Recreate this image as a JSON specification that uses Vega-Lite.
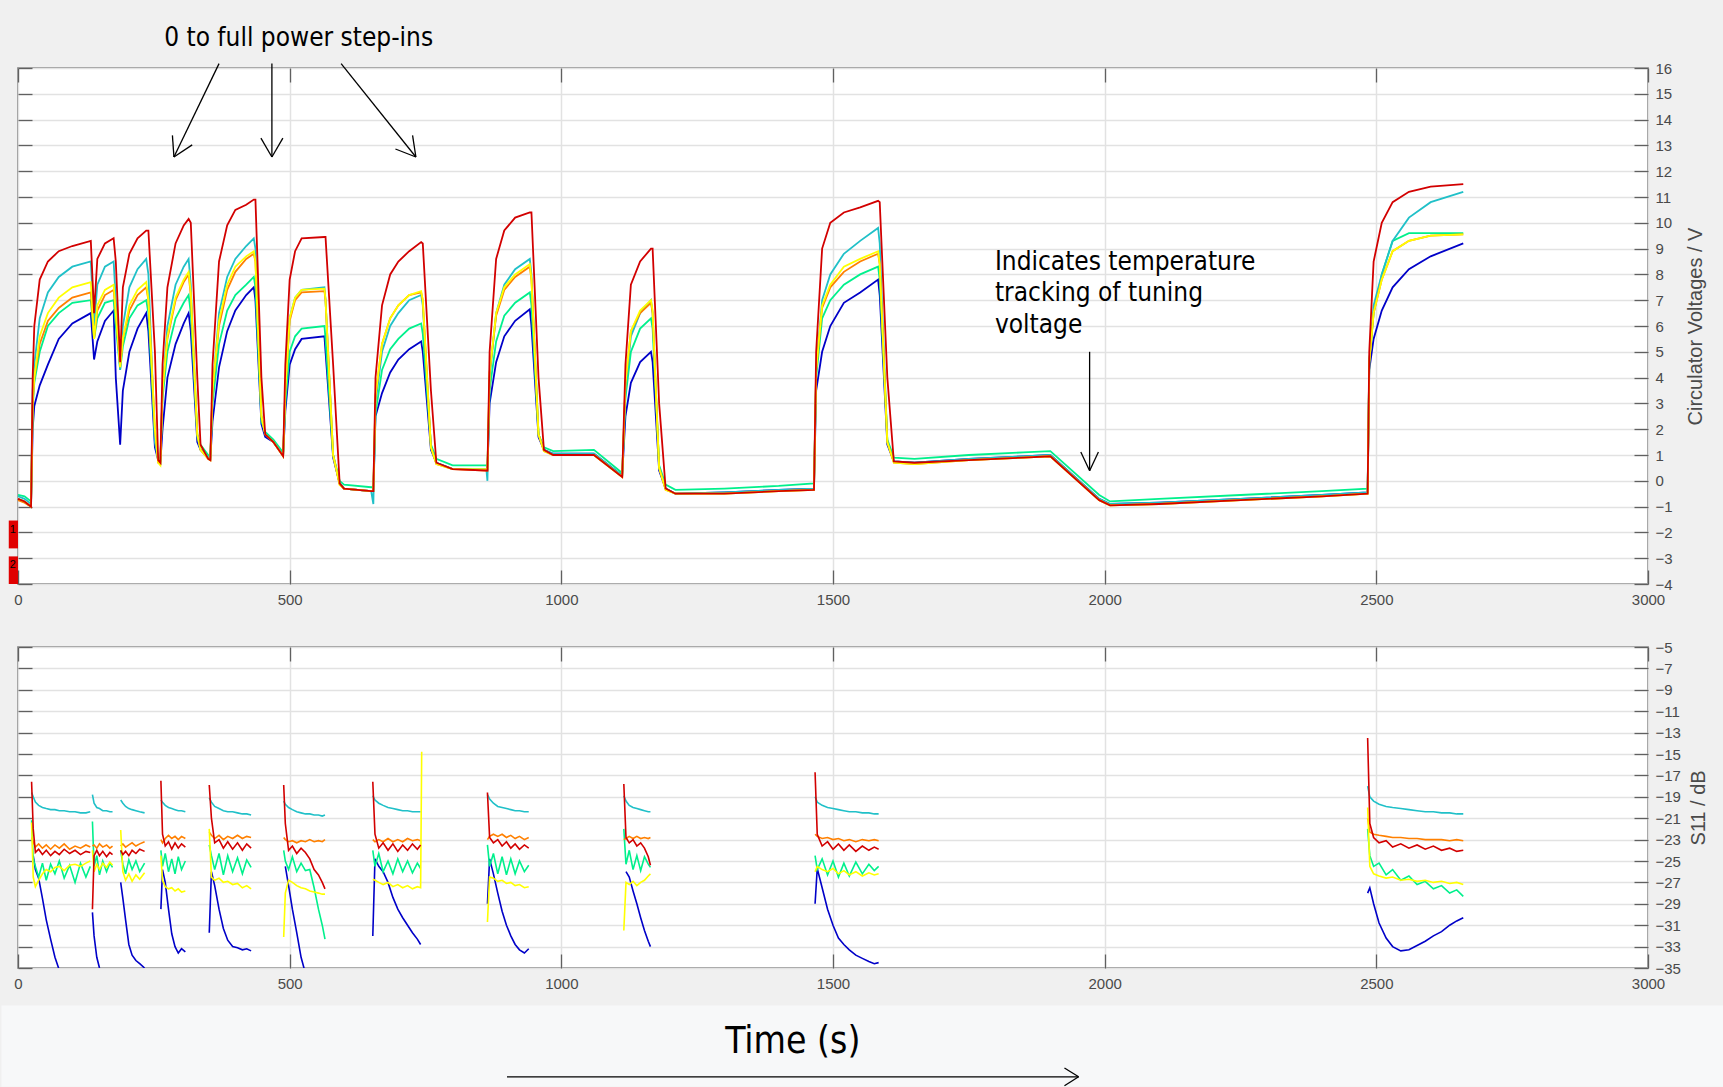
{
"$schema": "https://vega.github.io/schema/vega-lite/v6.json",
"autosize": {"type": "pad"},
"padding": {"left": 0, "top": 24, "right": 0, "bottom": 0},
"background": "#f0f0f0",
"bounds": "flush",
"spacing": 63,
"config": {
  "view": {"stroke": "#7a7a7a", "strokeWidth": 1.6, "fill": "white"},
  "axis": {"domain": false, "labelFlush": false, "labelFont": "Liberation Sans", "labelFontSize": 15, "labelColor": "#4a4a4a", "tickColor": "#606060", "tickWidth": 1.3, "gridColor": "#e2e2e2", "gridWidth": 1.5, "titleFont": "Liberation Sans", "titleFontSize": 20, "titleFontWeight": "normal", "titleColor": "#4a4a4a"}
},
"datasets": {
"top": [
{"t":0,"R":-0.7,"C":-0.6,"Y":-0.7,"O":-0.75,"G":-0.55,"B":-0.7},
{"t":12,"R":-0.8,"C":-0.7,"Y":-0.8,"O":-0.85,"G":-0.6,"B":-0.8},
{"t":24,"R":-1.0,"C":-0.9,"Y":-1.0,"O":-1.0,"G":-0.8,"B":-1.0},
{"t":27,"R":4.0,"C":3.5,"Y":3.0,"O":3.0,"G":2.8,"B":2.0},
{"t":30,"R":6.0,"C":4.5,"Y":4.0,"O":4.0,"G":3.8,"B":2.9},
{"t":40,"R":7.8,"C":6.3,"Y":5.6,"O":5.3,"G":5.0,"B":3.7},
{"t":55,"R":8.5,"C":7.3,"Y":6.5,"O":6.2,"G":6.0,"B":4.5},
{"t":75,"R":8.9,"C":7.9,"Y":7.1,"O":6.7,"G":6.5,"B":5.5},
{"t":100,"R":9.1,"C":8.3,"Y":7.5,"O":7.1,"G":6.9,"B":6.1},
{"t":134,"R":9.3,"C":8.5,"Y":7.7,"O":7.3,"G":7.0,"B":6.5},
{"t":140,"R":6.5,"C":6.0,"Y":5.5,"O":5.5,"G":5.5,"B":4.7},
{"t":146,"R":8.6,"C":7.6,"Y":6.8,"O":6.6,"G":6.3,"B":5.4},
{"t":160,"R":9.2,"C":8.3,"Y":7.4,"O":7.2,"G":6.9,"B":6.2},
{"t":176,"R":9.4,"C":8.5,"Y":7.6,"O":7.4,"G":7.0,"B":6.6},
{"t":180,"R":8.5,"C":7.0,"Y":6.5,"O":6.5,"G":6.0,"B":4.0},
{"t":188,"R":4.6,"C":4.3,"Y":4.4,"O":4.4,"G":4.3,"B":1.4},
{"t":193,"R":7.5,"C":6.0,"Y":5.5,"O":5.5,"G":5.2,"B":3.5},
{"t":205,"R":8.8,"C":7.5,"Y":6.8,"O":6.6,"G":6.3,"B":5.0},
{"t":220,"R":9.4,"C":8.2,"Y":7.4,"O":7.2,"G":6.8,"B":5.9},
{"t":236,"R":9.7,"C":8.6,"Y":7.7,"O":7.5,"G":7.0,"B":6.5},
{"t":240,"R":9.7,"C":8.0,"Y":7.0,"O":7.0,"G":6.5,"B":5.8},
{"t":252,"R":5.0,"C":1.5,"Y":2.0,"O":2.0,"G":1.6,"B":1.3},
{"t":258,"R":0.8,"C":0.8,"Y":0.7,"O":0.7,"G":0.9,"B":0.8},
{"t":262,"R":0.7,"C":0.7,"Y":0.6,"O":0.65,"G":0.8,"B":0.7},
{"t":266,"R":4.5,"C":3.5,"Y":3.5,"O":3.5,"G":3.2,"B":2.0},
{"t":275,"R":7.5,"C":6.0,"Y":5.6,"O":5.5,"G":5.0,"B":4.0},
{"t":290,"R":9.2,"C":7.6,"Y":7.1,"O":7.0,"G":6.3,"B":5.3},
{"t":305,"R":9.9,"C":8.3,"Y":7.8,"O":7.7,"G":6.9,"B":6.1},
{"t":314,"R":10.15,"C":8.6,"Y":8.1,"O":8.0,"G":7.2,"B":6.5},
{"t":318,"R":10.0,"C":7.6,"Y":7.3,"O":7.2,"G":6.5,"B":5.8},
{"t":330,"R":4.0,"C":1.7,"Y":1.8,"O":1.8,"G":1.8,"B":1.5},
{"t":336,"R":1.4,"C":1.2,"Y":1.2,"O":1.2,"G":1.4,"B":1.2},
{"t":350,"R":0.85,"C":0.9,"Y":0.85,"O":0.85,"G":1.0,"B":0.9},
{"t":354,"R":0.8,"C":0.85,"Y":0.8,"O":0.8,"G":0.95,"B":0.85},
{"t":358,"R":4.5,"C":3.5,"Y":3.5,"O":3.5,"G":3.0,"B":2.3},
{"t":370,"R":8.5,"C":6.5,"Y":6.2,"O":6.0,"G":5.3,"B":4.4},
{"t":385,"R":9.9,"C":7.9,"Y":7.6,"O":7.4,"G":6.6,"B":5.8},
{"t":400,"R":10.5,"C":8.6,"Y":8.3,"O":8.1,"G":7.2,"B":6.6},
{"t":420,"R":10.7,"C":9.1,"Y":8.7,"O":8.6,"G":7.6,"B":7.2},
{"t":434,"R":10.9,"C":9.4,"Y":8.9,"O":8.8,"G":7.9,"B":7.5},
{"t":437,"R":10.9,"C":9.0,"Y":8.5,"O":8.5,"G":7.5,"B":7.0},
{"t":448,"R":4.0,"C":2.5,"Y":2.5,"O":2.5,"G":2.3,"B":2.2},
{"t":455,"R":1.8,"C":1.8,"Y":1.8,"O":1.8,"G":1.9,"B":1.7},
{"t":470,"R":1.5,"C":1.5,"Y":1.5,"O":1.5,"G":1.6,"B":1.5},
{"t":488,"R":0.95,"C":1.0,"Y":0.95,"O":0.95,"G":1.1,"B":1.0},
{"t":492,"R":4.5,"C":3.5,"Y":3.5,"O":3.5,"G":3.0,"B":2.7},
{"t":500,"R":7.8,"C":6.3,"Y":6.3,"O":6.2,"G":5.0,"B":4.5},
{"t":510,"R":8.9,"C":7.1,"Y":7.1,"O":7.0,"G":5.6,"B":5.1},
{"t":522,"R":9.4,"C":7.4,"Y":7.4,"O":7.3,"G":5.9,"B":5.5},
{"t":564,"R":9.45,"C":7.5,"Y":7.45,"O":7.35,"G":6.0,"B":5.6},
{"t":566,"R":9.45,"C":7.0,"Y":7.0,"O":7.0,"G":5.5,"B":5.0},
{"t":580,"R":4.5,"C":1.0,"Y":1.0,"O":1.0,"G":1.0,"B":0.9},
{"t":592,"R":-0.1,"C":-0.1,"Y":-0.15,"O":-0.15,"G":0.0,"B":-0.1},
{"t":600,"R":-0.3,"C":-0.3,"Y":-0.3,"O":-0.3,"G":-0.15,"B":-0.3},
{"t":650,"R":-0.4,"C":-0.4,"Y":-0.4,"O":-0.4,"G":-0.25,"B":-0.4},
{"t":654,"R":-0.4,"C":-0.9,"Y":-0.4,"O":-0.4,"G":-0.25,"B":-0.4},
{"t":658,"R":4.0,"C":3.0,"Y":3.3,"O":3.3,"G":2.6,"B":2.5},
{"t":670,"R":6.8,"C":5.0,"Y":5.3,"O":5.3,"G":4.3,"B":3.4},
{"t":685,"R":8.0,"C":6.0,"Y":6.3,"O":6.3,"G":5.1,"B":4.2},
{"t":700,"R":8.5,"C":6.5,"Y":6.8,"O":6.8,"G":5.5,"B":4.7},
{"t":720,"R":8.9,"C":7.0,"Y":7.2,"O":7.2,"G":5.9,"B":5.1},
{"t":742,"R":9.25,"C":7.2,"Y":7.35,"O":7.3,"G":6.1,"B":5.4},
{"t":745,"R":9.2,"C":6.8,"Y":7.0,"O":7.0,"G":5.7,"B":5.0},
{"t":760,"R":3.5,"C":1.3,"Y":1.3,"O":1.3,"G":1.4,"B":1.2},
{"t":770,"R":0.7,"C":0.7,"Y":0.65,"O":0.65,"G":0.85,"B":0.7},
{"t":800,"R":0.45,"C":0.45,"Y":0.45,"O":0.45,"G":0.6,"B":0.45},
{"t":862,"R":0.4,"C":0.45,"Y":0.45,"O":0.4,"G":0.6,"B":0.45},
{"t":864,"R":0.4,"C":0.0,"Y":0.45,"O":0.4,"G":0.6,"B":0.45},
{"t":868,"R":5.0,"C":4.0,"Y":4.2,"O":4.2,"G":3.5,"B":3.0},
{"t":880,"R":8.6,"C":6.5,"Y":6.5,"O":6.4,"G":5.4,"B":4.6},
{"t":895,"R":9.7,"C":7.6,"Y":7.5,"O":7.4,"G":6.4,"B":5.6},
{"t":915,"R":10.2,"C":8.2,"Y":8.0,"O":7.9,"G":6.9,"B":6.2},
{"t":942,"R":10.4,"C":8.6,"Y":8.4,"O":8.3,"G":7.3,"B":6.65},
{"t":945,"R":10.4,"C":8.0,"Y":7.8,"O":7.8,"G":6.8,"B":6.0},
{"t":958,"R":4.0,"C":1.8,"Y":1.8,"O":1.8,"G":1.8,"B":1.7},
{"t":968,"R":1.2,"C":1.2,"Y":1.15,"O":1.15,"G":1.3,"B":1.2},
{"t":985,"R":1.0,"C":1.05,"Y":1.0,"O":1.0,"G":1.15,"B":1.05},
{"t":1060,"R":1.0,"C":1.05,"Y":1.0,"O":1.0,"G":1.2,"B":1.05},
{"t":1112,"R":0.15,"C":0.2,"Y":0.15,"O":0.15,"G":0.3,"B":0.2},
{"t":1118,"R":4.5,"C":3.5,"Y":3.8,"O":3.8,"G":3.2,"B":2.5},
{"t":1128,"R":7.6,"C":5.6,"Y":5.8,"O":5.8,"G":5.0,"B":3.8},
{"t":1145,"R":8.5,"C":6.5,"Y":6.6,"O":6.5,"G":5.9,"B":4.6},
{"t":1165,"R":9.0,"C":7.0,"Y":7.0,"O":6.9,"G":6.3,"B":5.0},
{"t":1168,"R":9.0,"C":6.5,"Y":6.6,"O":6.5,"G":5.9,"B":4.6},
{"t":1180,"R":3.0,"C":0.5,"Y":0.5,"O":0.5,"G":0.6,"B":0.4},
{"t":1192,"R":-0.3,"C":-0.3,"Y":-0.35,"O":-0.35,"G":-0.15,"B":-0.3},
{"t":1210,"R":-0.5,"C":-0.5,"Y":-0.5,"O":-0.5,"G":-0.35,"B":-0.5},
{"t":1300,"R":-0.5,"C":-0.45,"Y":-0.5,"O":-0.5,"G":-0.3,"B":-0.45},
{"t":1400,"R":-0.4,"C":-0.35,"Y":-0.4,"O":-0.4,"G":-0.2,"B":-0.35},
{"t":1465,"R":-0.35,"C":-0.3,"Y":-0.35,"O":-0.35,"G":-0.1,"B":-0.3},
{"t":1469,"R":5.0,"C":4.3,"Y":4.3,"O":4.3,"G":4.0,"B":3.5},
{"t":1480,"R":9.0,"C":7.0,"Y":6.8,"O":6.7,"G":6.3,"B":5.0},
{"t":1495,"R":10.0,"C":8.0,"Y":7.6,"O":7.5,"G":7.0,"B":6.0},
{"t":1520,"R":10.4,"C":8.8,"Y":8.3,"O":8.1,"G":7.6,"B":6.9},
{"t":1550,"R":10.6,"C":9.3,"Y":8.6,"O":8.5,"G":8.0,"B":7.3},
{"t":1583,"R":10.85,"C":9.8,"Y":8.9,"O":8.8,"G":8.3,"B":7.8},
{"t":1586,"R":10.8,"C":9.2,"Y":8.4,"O":8.4,"G":7.8,"B":7.2},
{"t":1600,"R":4.0,"C":1.5,"Y":1.5,"O":1.5,"G":1.6,"B":1.4},
{"t":1612,"R":0.75,"C":0.75,"Y":0.7,"O":0.7,"G":0.9,"B":0.75},
{"t":1650,"R":0.7,"C":0.7,"Y":0.65,"O":0.65,"G":0.85,"B":0.7},
{"t":1750,"R":0.8,"C":0.85,"Y":0.8,"O":0.8,"G":1.0,"B":0.85},
{"t":1850,"R":0.9,"C":0.95,"Y":0.9,"O":0.9,"G":1.1,"B":0.95},
{"t":1900,"R":0.95,"C":1.0,"Y":0.95,"O":0.95,"G":1.15,"B":1.0},
{"t":1990,"R":-0.75,"C":-0.7,"Y":-0.75,"O":-0.75,"G":-0.55,"B":-0.7},
{"t":2010,"R":-0.95,"C":-0.9,"Y":-0.95,"O":-0.95,"G":-0.8,"B":-0.9},
{"t":2100,"R":-0.9,"C":-0.85,"Y":-0.9,"O":-0.9,"G":-0.7,"B":-0.85},
{"t":2250,"R":-0.75,"C":-0.7,"Y":-0.75,"O":-0.75,"G":-0.55,"B":-0.7},
{"t":2400,"R":-0.6,"C":-0.55,"Y":-0.6,"O":-0.6,"G":-0.4,"B":-0.55},
{"t":2484,"R":-0.5,"C":-0.45,"Y":-0.5,"O":-0.5,"G":-0.3,"B":-0.45},
{"t":2487,"R":5.0,"C":4.6,"Y":4.6,"O":4.6,"G":4.6,"B":4.3},
{"t":2495,"R":8.5,"C":6.8,"Y":6.5,"O":6.5,"G":6.5,"B":5.5},
{"t":2510,"R":10.0,"C":8.0,"Y":7.8,"O":7.8,"G":8.0,"B":6.6},
{"t":2530,"R":10.8,"C":9.3,"Y":8.9,"O":8.9,"G":9.3,"B":7.5},
{"t":2560,"R":11.2,"C":10.2,"Y":9.3,"O":9.3,"G":9.6,"B":8.2},
{"t":2600,"R":11.4,"C":10.8,"Y":9.5,"O":9.5,"G":9.6,"B":8.7},
{"t":2660,"R":11.5,"C":11.2,"Y":9.55,"O":9.55,"G":9.6,"B":9.2}
],
"bot": [
{"g":1,"t":25,"R":-17.6,"C":-18.6,"Y":-21.4,"O":-22.8,"G":-21.2,"B":null},
{"g":1,"t":28,"R":-22.0,"C":-19.0,"Y":-26.5,"O":-23.2,"G":-24.8,"B":-24.5},
{"g":1,"t":32,"R":-24.2,"C":-19.5,"Y":-27.4,"O":-23.7,"G":-25.5,"B":-25.8},
{"g":1,"t":38,"R":-23.9,"C":-19.8,"Y":-26.8,"O":-23.4,"G":-26.5,"B":-26.6},
{"g":1,"t":45,"R":-24.4,"C":-20.0,"Y":-26.2,"O":-23.8,"G":-25.2,"B":-28.5},
{"g":1,"t":52,"R":-24.0,"C":-20.1,"Y":-25.8,"O":-23.5,"G":-26.8,"B":-30.5},
{"g":1,"t":60,"R":-24.5,"C":-20.2,"Y":-26.0,"O":-23.9,"G":-25.3,"B":-32.3},
{"g":1,"t":68,"R":-24.1,"C":-20.2,"Y":-25.6,"O":-23.5,"G":-26.2,"B":-34.0},
{"g":1,"t":76,"R":-24.4,"C":-20.3,"Y":-25.5,"O":-23.8,"G":-25.0,"B":-35.2},
{"g":1,"t":85,"R":-23.9,"C":-20.3,"Y":-25.9,"O":-23.4,"G":-26.6,"B":-36.0},
{"g":1,"t":95,"R":-24.3,"C":-20.4,"Y":-25.4,"O":-23.9,"G":-25.4,"B":-36.5},
{"g":1,"t":105,"R":-24.0,"C":-20.4,"Y":-25.3,"O":-23.6,"G":-27.0,"B":-36.5},
{"g":1,"t":115,"R":-24.4,"C":-20.5,"Y":-25.5,"O":-23.8,"G":-25.2,"B":-36.0},
{"g":1,"t":125,"R":-24.1,"C":-20.5,"Y":-25.2,"O":-23.5,"G":-26.5,"B":-36.0},
{"g":1,"t":133,"R":-24.2,"C":-20.4,"Y":-25.0,"O":-23.7,"G":-25.5,"B":-36.0},
{"g":2,"t":137,"R":-29.5,"C":-18.8,"Y":-24.0,"O":-23.6,"G":-21.3,"B":-29.8},
{"g":2,"t":140,"R":-24.5,"C":-19.6,"Y":-26.0,"O":-23.5,"G":-25.5,"B":-32.0},
{"g":2,"t":145,"R":-24.0,"C":-20.0,"Y":-25.3,"O":-23.8,"G":-24.5,"B":-34.0},
{"g":2,"t":150,"R":-24.5,"C":-20.1,"Y":-25.8,"O":-23.4,"G":-26.3,"B":-35.0},
{"g":2,"t":156,"R":-24.1,"C":-20.3,"Y":-25.2,"O":-23.7,"G":-25.0,"B":-36.0},
{"g":2,"t":163,"R":-24.6,"C":-20.3,"Y":-25.6,"O":-23.5,"G":-26.0,"B":-36.0},
{"g":2,"t":169,"R":-24.2,"C":-20.4,"Y":-25.1,"O":-23.8,"G":-25.2,"B":-36.0},
{"g":2,"t":174,"R":-24.4,"C":-20.4,"Y":-25.4,"O":-23.6,"G":-25.6,"B":-36.0},
{"g":3,"t":189,"R":-24.0,"C":-19.3,"Y":-22.1,"O":-23.6,"G":-24.0,"B":-27.0},
{"g":3,"t":193,"R":-24.4,"C":-19.6,"Y":-26.0,"O":-23.4,"G":-25.3,"B":-28.5},
{"g":3,"t":198,"R":-24.1,"C":-19.9,"Y":-26.8,"O":-23.7,"G":-26.2,"B":-30.5},
{"g":3,"t":204,"R":-24.5,"C":-20.1,"Y":-26.2,"O":-23.5,"G":-24.9,"B":-32.8},
{"g":3,"t":210,"R":-24.0,"C":-20.2,"Y":-26.9,"O":-23.3,"G":-25.8,"B":-33.8},
{"g":3,"t":217,"R":-24.3,"C":-20.3,"Y":-26.3,"O":-23.6,"G":-25.0,"B":-34.3},
{"g":3,"t":224,"R":-23.9,"C":-20.4,"Y":-26.7,"O":-23.4,"G":-26.0,"B":-34.6},
{"g":3,"t":233,"R":-24.1,"C":-20.5,"Y":-26.1,"O":-23.2,"G":-25.2,"B":-35.0},
{"g":4,"t":263,"R":-17.5,"C":-19.3,"Y":-24.5,"O":-23.0,"G":-24.0,"B":-29.5},
{"g":4,"t":266,"R":-22.5,"C":-19.5,"Y":-26.8,"O":-23.3,"G":-25.5,"B":-25.8},
{"g":4,"t":271,"R":-23.6,"C":-19.8,"Y":-27.4,"O":-22.9,"G":-24.3,"B":-27.0},
{"g":4,"t":277,"R":-23.2,"C":-20.0,"Y":-27.6,"O":-22.6,"G":-26.0,"B":-29.5},
{"g":4,"t":283,"R":-23.9,"C":-20.1,"Y":-27.5,"O":-22.9,"G":-24.8,"B":-31.8},
{"g":4,"t":289,"R":-23.3,"C":-20.2,"Y":-27.8,"O":-22.7,"G":-26.2,"B":-33.0},
{"g":4,"t":295,"R":-23.8,"C":-20.3,"Y":-27.6,"O":-23.0,"G":-24.6,"B":-33.6},
{"g":4,"t":301,"R":-23.4,"C":-20.3,"Y":-27.9,"O":-22.7,"G":-25.8,"B":-33.2},
{"g":4,"t":308,"R":-23.7,"C":-20.4,"Y":-27.8,"O":-22.9,"G":-25.0,"B":-33.5},
{"g":5,"t":352,"R":-17.9,"C":-19.1,"Y":-22.0,"O":-22.3,"G":-23.5,"B":-31.7},
{"g":5,"t":356,"R":-21.0,"C":-19.5,"Y":-26.5,"O":-22.6,"G":-24.5,"B":-26.0},
{"g":5,"t":362,"R":-23.3,"C":-19.9,"Y":-26.8,"O":-22.9,"G":-25.8,"B":-27.3},
{"g":5,"t":370,"R":-23.0,"C":-20.1,"Y":-26.6,"O":-22.6,"G":-24.3,"B":-29.5},
{"g":5,"t":378,"R":-23.8,"C":-20.3,"Y":-27.0,"O":-23.0,"G":-26.3,"B":-31.3},
{"g":5,"t":386,"R":-23.2,"C":-20.4,"Y":-26.9,"O":-22.7,"G":-24.5,"B":-32.4},
{"g":5,"t":395,"R":-23.9,"C":-20.4,"Y":-27.2,"O":-22.9,"G":-26.0,"B":-33.0},
{"g":5,"t":404,"R":-23.3,"C":-20.5,"Y":-27.1,"O":-22.6,"G":-24.7,"B":-33.1},
{"g":5,"t":413,"R":-24.0,"C":-20.6,"Y":-27.5,"O":-22.9,"G":-26.2,"B":-33.3},
{"g":5,"t":421,"R":-23.4,"C":-20.6,"Y":-27.3,"O":-22.7,"G":-24.9,"B":-33.2},
{"g":5,"t":429,"R":-23.8,"C":-20.7,"Y":-27.6,"O":-22.8,"G":-25.6,"B":-33.4},
{"g":6,"t":489,"R":-17.9,"C":-19.4,"Y":-32.1,"O":-22.8,"G":-24.0,"B":null},
{"g":6,"t":492,"R":-21.5,"C":-19.7,"Y":-28.0,"O":-23.0,"G":-25.0,"B":-25.5},
{"g":6,"t":498,"R":-24.0,"C":-20.0,"Y":-26.8,"O":-23.2,"G":-25.8,"B":-27.3},
{"g":6,"t":505,"R":-23.6,"C":-20.2,"Y":-27.0,"O":-23.1,"G":-24.6,"B":-29.5},
{"g":6,"t":513,"R":-24.3,"C":-20.4,"Y":-27.3,"O":-23.3,"G":-26.0,"B":-31.7},
{"g":6,"t":521,"R":-23.8,"C":-20.5,"Y":-27.5,"O":-23.1,"G":-25.2,"B":-34.0},
{"g":6,"t":529,"R":-24.2,"C":-20.6,"Y":-27.6,"O":-23.2,"G":-25.9,"B":-35.5},
{"g":6,"t":537,"R":-24.8,"C":-20.6,"Y":-27.8,"O":-23.0,"G":-25.8,"B":-37.0},
{"g":6,"t":545,"R":-25.8,"C":-20.7,"Y":-27.9,"O":-23.2,"G":-27.5,"B":-37.0},
{"g":6,"t":553,"R":-26.3,"C":-20.7,"Y":-28.0,"O":-23.1,"G":-29.5,"B":-37.0},
{"g":6,"t":560,"R":-27.0,"C":-20.8,"Y":-28.1,"O":-23.2,"G":-31.0,"B":-37.0},
{"g":6,"t":565,"R":-27.6,"C":-20.7,"Y":-28.1,"O":-23.0,"G":-32.3,"B":-37.0},
{"g":7,"t":653,"R":-17.6,"C":-18.9,"Y":-26.7,"O":-23.0,"G":-24.0,"B":-32.0},
{"g":7,"t":657,"R":-22.5,"C":-19.3,"Y":-26.8,"O":-23.2,"G":-25.5,"B":-24.8},
{"g":7,"t":664,"R":-23.8,"C":-19.6,"Y":-27.0,"O":-23.0,"G":-24.3,"B":-25.5},
{"g":7,"t":672,"R":-23.3,"C":-19.8,"Y":-27.2,"O":-23.2,"G":-26.0,"B":-26.0},
{"g":7,"t":681,"R":-24.0,"C":-20.0,"Y":-27.0,"O":-22.9,"G":-25.0,"B":-27.0},
{"g":7,"t":690,"R":-23.4,"C":-20.1,"Y":-27.4,"O":-23.2,"G":-26.2,"B":-28.4},
{"g":7,"t":699,"R":-24.1,"C":-20.2,"Y":-27.2,"O":-23.0,"G":-24.8,"B":-29.5},
{"g":7,"t":708,"R":-23.5,"C":-20.3,"Y":-27.5,"O":-23.2,"G":-26.0,"B":-30.3},
{"g":7,"t":717,"R":-24.0,"C":-20.3,"Y":-27.3,"O":-22.9,"G":-25.0,"B":-31.0},
{"g":7,"t":726,"R":-23.4,"C":-20.4,"Y":-27.6,"O":-23.1,"G":-26.1,"B":-31.7},
{"g":7,"t":735,"R":-23.9,"C":-20.4,"Y":-27.4,"O":-23.0,"G":-25.2,"B":-32.3},
{"g":7,"t":741,"R":-23.5,"C":-20.4,"Y":-27.5,"O":-23.1,"G":-25.7,"B":-32.8},
{"g":7,"t":743,"R":null,"C":null,"Y":-14.8,"O":null,"G":null,"B":null},
{"g":8,"t":864,"R":-18.6,"C":-18.8,"Y":-30.7,"O":-23.0,"G":-23.5,"B":-29.0},
{"g":8,"t":868,"R":-22.8,"C":-19.2,"Y":-26.5,"O":-22.7,"G":-25.5,"B":-24.8},
{"g":8,"t":875,"R":-23.3,"C":-19.6,"Y":-26.6,"O":-22.5,"G":-24.3,"B":-26.2},
{"g":8,"t":883,"R":-23.0,"C":-19.9,"Y":-26.9,"O":-22.7,"G":-26.2,"B":-28.0},
{"g":8,"t":891,"R":-23.6,"C":-20.0,"Y":-26.8,"O":-22.5,"G":-24.6,"B":-29.7},
{"g":8,"t":899,"R":-23.2,"C":-20.1,"Y":-27.1,"O":-22.8,"G":-26.3,"B":-31.0},
{"g":8,"t":907,"R":-23.8,"C":-20.2,"Y":-27.0,"O":-22.6,"G":-24.8,"B":-32.0},
{"g":8,"t":915,"R":-23.4,"C":-20.3,"Y":-27.3,"O":-22.9,"G":-26.2,"B":-32.8},
{"g":8,"t":923,"R":-23.9,"C":-20.3,"Y":-27.2,"O":-22.7,"G":-25.0,"B":-33.3},
{"g":8,"t":932,"R":-23.5,"C":-20.4,"Y":-27.5,"O":-23.0,"G":-26.0,"B":-33.6},
{"g":8,"t":940,"R":-23.8,"C":-20.4,"Y":-27.4,"O":-22.8,"G":-25.4,"B":-33.2},
{"g":9,"t":1115,"R":-17.8,"C":-18.9,"Y":-31.5,"O":-23.0,"G":-22.0,"B":null},
{"g":9,"t":1119,"R":-22.8,"C":-19.4,"Y":-27.0,"O":-22.9,"G":-25.3,"B":-26.0},
{"g":9,"t":1125,"R":-23.3,"C":-19.8,"Y":-27.2,"O":-22.7,"G":-24.0,"B":-26.5},
{"g":9,"t":1132,"R":-23.0,"C":-20.0,"Y":-26.9,"O":-22.9,"G":-25.8,"B":-27.8},
{"g":9,"t":1139,"R":-23.6,"C":-20.1,"Y":-27.3,"O":-22.7,"G":-24.5,"B":-29.0},
{"g":9,"t":1146,"R":-23.3,"C":-20.2,"Y":-27.0,"O":-22.9,"G":-25.9,"B":-30.3},
{"g":9,"t":1153,"R":-23.8,"C":-20.3,"Y":-26.8,"O":-22.8,"G":-24.6,"B":-31.5},
{"g":9,"t":1160,"R":-24.6,"C":-20.4,"Y":-26.4,"O":-22.9,"G":-25.3,"B":-32.5},
{"g":9,"t":1164,"R":-25.4,"C":-20.4,"Y":-26.2,"O":-22.8,"G":-25.6,"B":-33.0},
{"g":10,"t":1467,"R":-16.7,"C":-19.0,"Y":-26.0,"O":-22.5,"G":-24.5,"B":-29.0},
{"g":10,"t":1471,"R":-22.5,"C":-19.5,"Y":-25.5,"O":-22.7,"G":-25.8,"B":-25.7},
{"g":10,"t":1480,"R":-23.6,"C":-19.8,"Y":-25.8,"O":-22.9,"G":-24.8,"B":-27.5},
{"g":10,"t":1490,"R":-23.2,"C":-20.0,"Y":-26.0,"O":-22.8,"G":-26.3,"B":-29.5},
{"g":10,"t":1500,"R":-23.9,"C":-20.1,"Y":-25.7,"O":-23.0,"G":-25.0,"B":-31.0},
{"g":10,"t":1510,"R":-23.4,"C":-20.2,"Y":-26.2,"O":-22.9,"G":-26.5,"B":-32.2},
{"g":10,"t":1520,"R":-24.0,"C":-20.3,"Y":-25.9,"O":-23.1,"G":-25.2,"B":-32.8},
{"g":10,"t":1530,"R":-23.5,"C":-20.4,"Y":-26.3,"O":-23.0,"G":-26.4,"B":-33.3},
{"g":10,"t":1542,"R":-24.1,"C":-20.4,"Y":-26.0,"O":-23.2,"G":-25.1,"B":-33.8},
{"g":10,"t":1554,"R":-23.6,"C":-20.5,"Y":-26.4,"O":-23.0,"G":-26.2,"B":-34.1},
{"g":10,"t":1566,"R":-24.0,"C":-20.5,"Y":-26.1,"O":-23.1,"G":-25.3,"B":-34.4},
{"g":10,"t":1576,"R":-23.7,"C":-20.6,"Y":-26.3,"O":-23.0,"G":-25.9,"B":-34.6},
{"g":10,"t":1584,"R":-23.9,"C":-20.6,"Y":-26.2,"O":-23.1,"G":-25.5,"B":-34.5},
{"g":11,"t":2484,"R":-13.5,"C":-18.0,"Y":-20.0,"O":-21.0,"G":-22.0,"B":-28.0},
{"g":11,"t":2488,"R":-21.5,"C":-19.0,"Y":-25.5,"O":-22.3,"G":-24.5,"B":-27.5},
{"g":11,"t":2495,"R":-22.8,"C":-19.4,"Y":-26.2,"O":-22.5,"G":-25.5,"B":-29.0},
{"g":11,"t":2505,"R":-23.3,"C":-19.7,"Y":-26.4,"O":-22.6,"G":-25.2,"B":-30.8},
{"g":11,"t":2518,"R":-23.1,"C":-19.9,"Y":-26.6,"O":-22.7,"G":-26.3,"B":-32.2},
{"g":11,"t":2530,"R":-23.7,"C":-20.0,"Y":-26.5,"O":-22.8,"G":-25.8,"B":-33.0},
{"g":11,"t":2545,"R":-23.4,"C":-20.1,"Y":-26.8,"O":-22.8,"G":-26.8,"B":-33.4},
{"g":11,"t":2560,"R":-23.8,"C":-20.2,"Y":-26.7,"O":-22.9,"G":-26.4,"B":-33.3},
{"g":11,"t":2575,"R":-23.5,"C":-20.3,"Y":-26.9,"O":-22.9,"G":-27.2,"B":-32.9},
{"g":11,"t":2590,"R":-23.9,"C":-20.4,"Y":-26.8,"O":-23.0,"G":-26.9,"B":-32.5},
{"g":11,"t":2605,"R":-23.6,"C":-20.4,"Y":-27.0,"O":-23.0,"G":-27.6,"B":-32.0},
{"g":11,"t":2620,"R":-24.0,"C":-20.5,"Y":-26.9,"O":-23.0,"G":-27.3,"B":-31.6},
{"g":11,"t":2635,"R":-23.8,"C":-20.5,"Y":-27.1,"O":-23.1,"G":-28.0,"B":-31.0},
{"g":11,"t":2648,"R":-24.1,"C":-20.6,"Y":-27.0,"O":-23.0,"G":-27.7,"B":-30.6},
{"g":11,"t":2660,"R":-24.0,"C":-20.6,"Y":-27.2,"O":-23.1,"G":-28.3,"B":-30.3}
],
"arrTop": [
{"x1":370,"y1":16.17,"x2":287,"y2":12.55},
{"x1":287,"y1":12.55,"x2":320.6,"y2":13.02},
{"x1":287,"y1":12.55,"x2":284.2,"y2":13.39},
{"x1":467.3,"y1":16.17,"x2":467.3,"y2":12.55},
{"x1":467.3,"y1":12.55,"x2":447.1,"y2":13.28},
{"x1":467.3,"y1":12.55,"x2":487.5,"y2":13.28},
{"x1":594.7,"y1":16.17,"x2":732.3,"y2":12.55},
{"x1":732.3,"y1":12.55,"x2":726.2,"y2":13.39},
{"x1":732.3,"y1":12.55,"x2":694.7,"y2":12.86},
{"x1":1972.3,"y1":5.0,"x2":1972.3,"y2":0.39},
{"x1":1972.3,"y1":0.39,"x2":1956.1,"y2":1.12},
{"x1":1972.3,"y1":0.39,"x2":1988.5,"y2":1.12}
],
"notesTop": [
{"t":269,"v":17.15,"label":"0 to full power step-ins"},
{"t":1798,"v":8.5,"label":"Indicates temperature"},
{"t":1798,"v":7.26,"label":"tracking of tuning"},
{"t":1798,"v":6.02,"label":"voltage"}
],
"markers": [
{"x1":-17,"x2":0,"y1":-1.54,"y2":-2.62,"label":"1"},
{"x1":-17,"x2":0,"y1":-2.93,"y2":-4.0,"label":"2"}
],
"slideBand": [
{"x1":-30.4,"x2":3141.7,"y1":-38.5,"y2":-46.1}
],
"arrBot": [
{"x1":900,"y1":-45.17,"x2":1952,"y2":-45.17},
{"x1":1952,"y1":-45.17,"x2":1926,"y2":-44.35},
{"x1":1952,"y1":-45.17,"x2":1926,"y2":-46.0}
],
"notesBot": [
{"t":1426,"v":-41.9,"label":"Time (s)"}
]
},
"vconcat": [
{
  "width": 1630, "height": 516,
  "resolve": {"axis": {"x": "independent", "y": "independent"}},
  "layer": [
    {
      "data": {"name": "top"},
      "transform": [{"fold": ["B","G","C","O","Y","R"], "as": ["s","val"]}],
      "mark": {"type": "line", "strokeWidth": 1.8},
      "encoding": {
        "x": {"field": "t", "type": "quantitative", "scale": {"domain": [0,3000], "nice": false, "zero": false},
              "axis": {"orient": "bottom", "title": null, "format": "d", "values": [0,500,1000,1500,2000,2500,3000], "grid": true, "tickSize": -14, "labelPadding": 22}},
        "y": {"field": "val", "type": "quantitative", "scale": {"domain": [-4,16], "nice": false, "zero": false},
              "axis": {"orient": "right", "title": "Circulator Voltages / V", "values": [-4,-3,-2,-1,0,1,2,3,4,5,6,7,8,9,10,11,12,13,14,15,16], "grid": true, "tickSize": -14, "labelPadding": 21, "titleAngle": 270, "titlePadding": 33}},
        "color": {"field": "s", "type": "nominal", "legend": null,
                  "scale": {"domain": ["B","G","C","O","Y","R"], "range": ["#0000c8","#00f08c","#20c0c8","#ff8000","#ffff00","#d20000"]}}
      }
    },
    {
      "data": {"name": "arrTop"},
      "mark": {"type": "rule", "color": "black", "strokeWidth": 1.3},
      "encoding": {
        "x": {"field": "x1", "type": "quantitative", "scale": {"domain": [0,3000], "nice": false, "zero": false},
              "axis": {"orient": "top", "title": null, "labels": false, "grid": false, "values": [0,500,1000,1500,2000,2500,3000], "tickSize": -14}},
        "x2": {"field": "x2"},
        "y": {"field": "y1", "type": "quantitative", "scale": {"domain": [-4,16], "nice": false, "zero": false},
              "axis": {"orient": "left", "title": null, "labels": false, "grid": false, "values": [-4,-3,-2,-1,0,1,2,3,4,5,6,7,8,9,10,11,12,13,14,15,16], "tickSize": -14}},
        "y2": {"field": "y2"}
      }
    },
    {
      "data": {"name": "notesTop"},
      "mark": {"type": "text", "align": "left", "baseline": "middle", "font": "DejaVu Sans Condensed, DejaVu Sans", "fontSize": 26, "color": "black"},
      "encoding": {
        "x": {"field": "t", "type": "quantitative", "axis": null},
        "y": {"field": "v", "type": "quantitative", "axis": null},
        "text": {"field": "label"}
      }
    },
    {
      "data": {"name": "markers"},
      "mark": {"type": "rect", "color": "#e00000"},
      "encoding": {
        "x": {"field": "x1", "type": "quantitative", "axis": null},
        "x2": {"field": "x2"},
        "y": {"field": "y1", "type": "quantitative", "axis": null},
        "y2": {"field": "y2"}
      }
    },
    {
      "data": {"name": "markers"},
      "mark": {"type": "text", "align": "left", "baseline": "top", "fontSize": 11, "font": "Liberation Sans", "color": "black", "dx": 1, "dy": 3},
      "encoding": {
        "x": {"field": "x1", "type": "quantitative", "axis": null},
        "y": {"field": "y1", "type": "quantitative", "axis": null},
        "text": {"field": "label"}
      }
    }
  ]
},
{
  "width": 1630, "height": 321,
  "resolve": {"axis": {"x": "independent", "y": "independent"}},
  "layer": [
    {
      "data": {"name": "slideBand"},
      "mark": {"type": "rect", "color": "#f7f8f9"},
      "encoding": {
        "x": {"field": "x1", "type": "quantitative", "scale": {"domain": [0,3000], "nice": false, "zero": false}, "axis": null},
        "x2": {"field": "x2"},
        "y": {"field": "y1", "type": "quantitative", "scale": {"domain": [-35,-5], "nice": false, "zero": false}, "axis": null},
        "y2": {"field": "y2"}
      }
    },
    {
      "data": {"name": "bot"},
      "transform": [{"fold": ["B","G","C","O","Y","R"], "as": ["s","val"]}],
      "mark": {"type": "line", "strokeWidth": 1.6, "clip": true},
      "encoding": {
        "x": {"field": "t", "type": "quantitative", "scale": {"domain": [0,3000], "nice": false, "zero": false},
              "axis": {"orient": "bottom", "title": null, "format": "d", "values": [0,500,1000,1500,2000,2500,3000], "grid": true, "tickSize": -14, "labelPadding": 22}},
        "y": {"field": "val", "type": "quantitative", "scale": {"domain": [-35,-5], "nice": false, "zero": false},
              "axis": {"orient": "right", "title": "S11 / dB", "values": [-35,-33,-31,-29,-27,-25,-23,-21,-19,-17,-15,-13,-11,-9,-7,-5], "grid": true, "tickSize": -14, "labelPadding": 21, "titleAngle": 270, "titlePadding": 28}},
        "color": {"field": "s", "type": "nominal", "legend": null,
                  "scale": {"domain": ["B","G","C","O","Y","R"], "range": ["#0000c8","#00f08c","#20c0c8","#ff8000","#ffff00","#d20000"]}},
        "detail": {"field": "g", "type": "nominal"}
      }
    },
    {
      "data": {"name": "arrBot"},
      "mark": {"type": "rule", "color": "black", "strokeWidth": 1.3},
      "encoding": {
        "x": {"field": "x1", "type": "quantitative", "scale": {"domain": [0,3000], "nice": false, "zero": false},
              "axis": {"orient": "top", "title": null, "labels": false, "grid": false, "values": [0,500,1000,1500,2000,2500,3000], "tickSize": -14}},
        "x2": {"field": "x2"},
        "y": {"field": "y1", "type": "quantitative", "scale": {"domain": [-35,-5], "nice": false, "zero": false},
              "axis": {"orient": "left", "title": null, "labels": false, "grid": false, "values": [-35,-33,-31,-29,-27,-25,-23,-21,-19,-17,-15,-13,-11,-9,-7,-5], "tickSize": -14}},
        "y2": {"field": "y2"}
      }
    },
    {
      "data": {"name": "notesBot"},
      "mark": {"type": "text", "align": "center", "baseline": "middle", "font": "DejaVu Sans Condensed, DejaVu Sans", "fontSize": 37, "color": "black"},
      "encoding": {
        "x": {"field": "t", "type": "quantitative", "axis": null},
        "y": {"field": "v", "type": "quantitative", "axis": null},
        "text": {"field": "label"}
      }
    }
  ]
}
]
}
